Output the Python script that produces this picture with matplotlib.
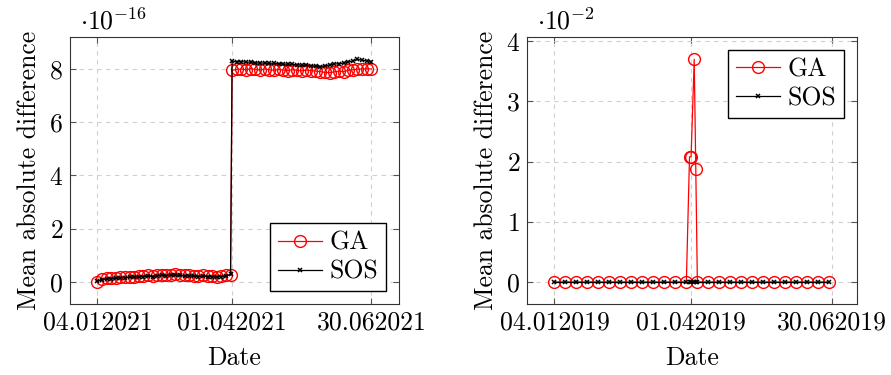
import numpy as np
import pandas as pd
import matplotlib
matplotlib.use('Agg')
import matplotlib.pyplot as plt
import matplotlib.dates as mdates

plt.rcParams['font.family'] = 'serif'
plt.rcParams['font.serif'] = ['cmr10']
plt.rcParams['mathtext.fontset'] = 'cm'
plt.rcParams['axes.formatter.use_mathtext'] = True

# ---- left panel data (2021), values in units of 1e-16 ----
dates_2021_low = pd.date_range('2021-01-04', '2021-03-31', periods=30)
dates_2021_high = pd.date_range('2021-04-01', '2021-06-30', periods=31)
ga_2021_low = [0.00, 0.12, 0.14, 0.15, 0.15, 0.17, 0.18, 0.18, 0.20, 0.21,
               0.22, 0.24, 0.22, 0.25, 0.26, 0.25, 0.27, 0.28, 0.26, 0.24,
               0.25, 0.23, 0.22, 0.24, 0.22, 0.21, 0.20, 0.22, 0.24, 0.26]
sos_2021_low = [0.03, 0.08, 0.11, 0.12, 0.13, 0.15, 0.16, 0.17, 0.18, 0.19,
                0.20, 0.22, 0.20, 0.23, 0.24, 0.23, 0.25, 0.26, 0.24, 0.22,
                0.23, 0.21, 0.20, 0.22, 0.20, 0.19, 0.19, 0.20, 0.22, 0.28]
ga_2021_high = [7.95, 7.98, 8.00, 7.97, 8.01, 7.98, 7.96, 8.00, 7.97, 7.95,
                7.98, 7.96, 7.94, 7.97, 7.95, 7.93, 7.96, 7.94, 7.92, 7.90,
                7.87, 7.86, 7.89, 7.92, 7.90, 7.95, 7.97, 7.99, 8.00, 8.01, 8.00]
sos_2021_high = [8.30, 8.27, 8.28, 8.25, 8.26, 8.24, 8.22, 8.23, 8.21, 8.22,
                 8.20, 8.18, 8.19, 8.17, 8.16, 8.14, 8.15, 8.12, 8.10, 8.09,
                 8.12, 8.15, 8.18, 8.20, 8.22, 8.26, 8.30, 8.36, 8.33, 8.30, 8.28]

# ---- right panel data (2019), values in units of 1e-2 ----
dates_2019 = pd.to_datetime([
    '2019-01-04', '2019-01-11', '2019-01-18', '2019-01-25', '2019-02-01',
    '2019-02-08', '2019-02-15', '2019-02-22', '2019-03-01', '2019-03-08',
    '2019-03-15', '2019-03-22', '2019-03-29', '2019-03-31', '2019-04-01',
    '2019-04-03', '2019-04-04', '2019-04-05', '2019-04-12', '2019-04-19',
    '2019-04-26', '2019-05-03', '2019-05-10', '2019-05-17', '2019-05-24',
    '2019-05-31', '2019-06-07', '2019-06-14', '2019-06-21', '2019-06-28'])
ga_2019 = [0, 0, 0, 0, 0, 0, 0, 0, 0, 0, 0, 0, 0, 2.08, 2.08,
           3.70, 1.88, 0, 0, 0, 0, 0, 0, 0, 0, 0, 0, 0, 0, 0]
sos_2019 = [0] * 30

xtick_2021 = ['2021-01-04', '2021-04-01', '2021-06-30']
xlab_2021 = ['04.012021', '01.042021', '30.062021']
xtick_2019 = ['2019-01-04', '2019-04-01', '2019-06-30']
xlab_2019 = ['04.012019', '01.042019', '30.062019']

fs = 18.5
fig = plt.figure(figsize=(8.91, 3.75), dpi=100)
ax1 = fig.add_axes([0.0786, 0.189, 0.369, 0.712])
ax2 = fig.add_axes([0.5915, 0.189, 0.370, 0.712])


def style(ax, x, y, xt, xl, yt, power):
    xn = mdates.date2num(x)
    px = 0.1 * (xn.max() - xn.min())
    ax.set_xlim(xn.min() - px, xn.max() + px)
    y = np.asarray(y)
    py = 0.1 * (y.max() - y.min())
    ax.set_ylim(y.min() - py, y.max() + py)
    ax.set_xticks(mdates.date2num(pd.to_datetime(xt)))
    ax.set_xticklabels(xl)
    ax.set_yticks(yt)
    ax.tick_params(direction='in', length=4, color='#555555', top=True,
                   right=True, labelsize=fs, pad=5)
    ax.grid(True, color='#d0d0d0', linestyle=(0, (4, 4)), linewidth=0.8)
    ax.set_axisbelow(True)
    for s in ax.spines.values():
        s.set_color('#333333')
        s.set_linewidth(0.8)
    ax.set_xlabel('Date', fontsize=fs, labelpad=8)
    ax.set_ylabel('Mean absolute difference', fontsize=fs, labelpad=6)
    ax.text(0.03, 1.01, r'$\cdot 10^{%d}$' % power, transform=ax.transAxes,
            fontsize=fs, va='bottom', ha='left')


ga_kw = dict(color='red', marker='o', markersize=8.5, mfc='none', mew=1.0, lw=0.9)
sos_kw = dict(color='black', marker='x', markersize=3, mew=1.1, lw=0.9)

# left
x21 = dates_2021_low.append(dates_2021_high)
ax1.plot(x21, ga_2021_low + ga_2021_high, label='GA', **ga_kw)
ax1.plot(x21, sos_2021_low + sos_2021_high, label='SOS', **sos_kw)
style(ax1, x21, ga_2021_low + ga_2021_high + sos_2021_low + sos_2021_high,
      xtick_2021, xlab_2021, [0, 2, 4, 6, 8], -16)
ax1.legend(loc='lower right', fontsize=fs, fancybox=False, edgecolor='black',
           framealpha=1, handlelength=1.7, borderaxespad=0.5,
           handletextpad=0.3, borderpad=0.3, labelspacing=0.2)

# right
ax2.plot(dates_2019, ga_2019, label='GA', **ga_kw)
ax2.plot(dates_2019, sos_2019, label='SOS', **sos_kw)
style(ax2, dates_2019, ga_2019 + sos_2019, xtick_2019, xlab_2019,
      [0, 1, 2, 3, 4], -2)
ax2.legend(loc='upper right', fontsize=fs, fancybox=False, edgecolor='black',
           framealpha=1, handlelength=1.7, borderaxespad=0.5,
           handletextpad=0.3, borderpad=0.3, labelspacing=0.2)

fig.savefig('out.png', dpi=100)
